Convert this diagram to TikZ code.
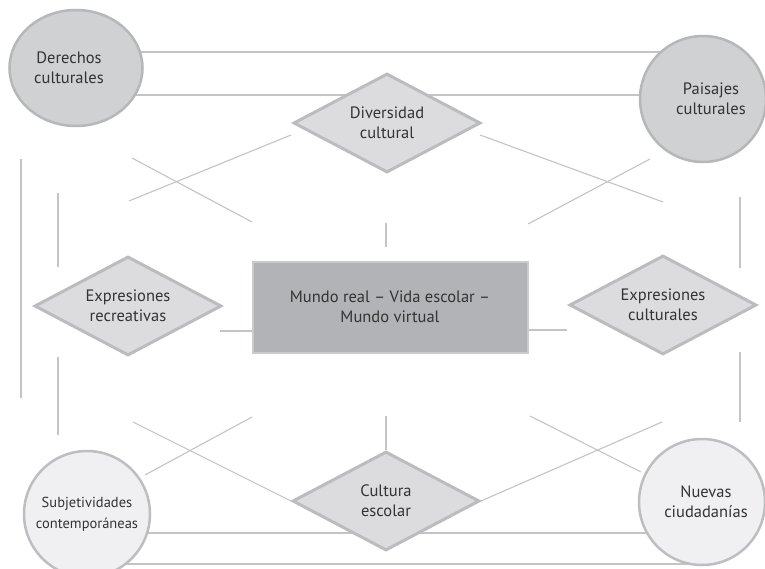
\documentclass[tikz,border=0pt]{standalone}
\usepackage{fontspec}
\setmainfont{PT Sans}
\usetikzlibrary{shapes.geometric,backgrounds}
\definecolor{linegray}{HTML}{C4C4C6}
\definecolor{topfill}{HTML}{D0D1D3}
\definecolor{topdraw}{HTML}{B6B7B9}
\definecolor{botfill}{HTML}{F0F0F2}
\definecolor{botdraw}{HTML}{BDBEC0}
\definecolor{diafill}{HTML}{DCDCDE}
\definecolor{diadraw}{HTML}{BBBCBE}
\definecolor{recfill}{HTML}{B2B3B6}
\definecolor{recdraw}{HTML}{CACBCD}
\definecolor{txt}{HTML}{333333}
\tikzset{
  base/.style={align=center, text=txt, font=\fontsize{16.5}{20}\selectfont, inner sep=0pt},
  topcirc/.style={base, fill=topfill, draw=topdraw, line width=2.5pt},
  botcirc/.style={base, circle, fill=botfill, draw=botdraw, line width=2.5pt},
  dia/.style={base, diamond, aspect=1.86, minimum width=187pt, minimum height=99pt, fill=diafill, draw=diadraw, line width=3pt},
  mainbox/.style={base, rectangle, minimum width=275pt, minimum height=91pt, fill=recfill, draw=recdraw, line width=2pt},
  conn/.style={draw=linegray, line width=1.1pt}
}
\begin{document}
\begin{tikzpicture}[x=1pt,y=-1pt]
\useasboundingbox (0,0) rectangle (765,569);
% nodes
\node[topcirc, ellipse, minimum width=133pt, minimum height=116pt] (der) at (76,68) {Derechos\hspace*{14pt}\\culturales\hspace*{14pt}};
\node[topcirc, circle, minimum size=126pt] (pai) at (703,99) {\hspace*{16pt}Paisajes\\\hspace*{16pt}culturales};
\node[botcirc, minimum size=126pt, font=\fontsize{14.5}{21}\selectfont] (sub) at (87,514) {Subjetividades\\contemporáneas};
\node[botcirc, minimum size=126pt] (nue) at (702,502) {\hspace*{8pt}Nuevas\\\hspace*{8pt}ciudadanías};
\node[dia] (div) at (387,123) {Diversidad\\cultural};
\node[dia] (rec) at (128,306) {Expresiones\\recreativas};
\node[dia] (exc) at (663,305) {Expresiones\\culturales};
\node[dia] (esc) at (386,501) {Cultura\\escolar};
\node[mainbox] (mun) at (390,307) {Mundo real -- Vida escolar --\\Mundo virtual};
% free ends
\coordinate (a1) at (132,158); \coordinate (a2) at (252,222);
\coordinate (b1) at (129,201); \coordinate (b2) at (291,135);
\coordinate (c1) at (480,135); \coordinate (c2) at (663,202);
\coordinate (d1) at (528,224); \coordinate (d2) at (650,159);
\coordinate (e1) at (386,223); \coordinate (e2) at (386,247);
\coordinate (f1) at (21,159);  \coordinate (f2) at (21,398);
\coordinate (g1) at (58,193);  \coordinate (g2) at (58,267);
\coordinate (h1) at (58,357);  \coordinate (h2) at (58,435);
\coordinate (i1) at (740,197); \coordinate (i2) at (740,268);
\coordinate (j1) at (740,352); \coordinate (j2) at (740,422);
\coordinate (k1) at (220,331);
\coordinate (l2) at (567,330);
\coordinate (m1) at (386,416);
\coordinate (n1) at (133,422);
\coordinate (o1) at (252,417); \coordinate (o2) at (145,475);
\coordinate (p1) at (530,416); \coordinate (p2) at (641,472);
\coordinate (q1) at (662,422);
\begin{pgfonlayer}{background}
\fill[white] (0,0) rectangle (765,569);
\draw[conn] (der.center |- 0,52) -- (pai.center |- 0,52);
\draw[conn] (der.center |- 0,95) -- (pai.center |- 0,95);
\draw[conn] (a1) -- (a2);
\draw[conn] (b1) -- (b2);
\draw[conn] (c1) -- (c2);
\draw[conn] (d1) -- (d2);
\draw[conn] (e1) -- (e2);
\draw[conn] (f1) -- (f2);
\draw[conn] (g1) -- (g2);
\draw[conn] (h1) -- (h2);
\draw[conn] (i1) -- (i2);
\draw[conn] (j1) -- (j2);
\draw[conn] (k1) -- (mun.west |- k1);
\draw[conn] (mun.east |- l2) -- (l2);
\draw[conn] (m1) -- (esc.north);
\draw[conn] (n1) -- (esc.west);
\draw[conn] (o1) -- (o2);
\draw[conn] (p1) -- (p2);
\draw[conn] (q1) -- (esc.east);
\draw[conn] (sub.center |- 0,533) -- (nue.center |- 0,533);
\draw[conn] (sub.center |- 0,564) -- (nue.center |- 0,564);
\end{pgfonlayer}
\end{tikzpicture}
\end{document}
